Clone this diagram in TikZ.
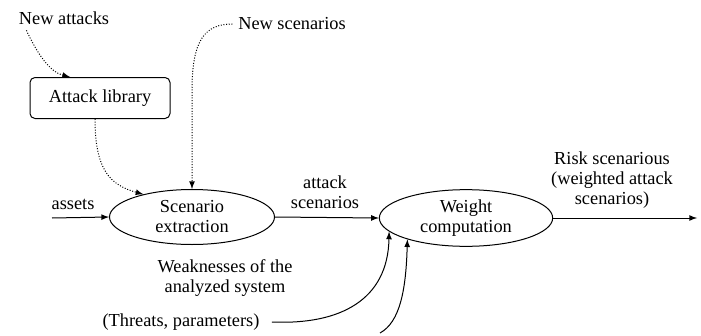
\documentclass[tikz,border=0pt]{standalone}
\usepackage{fontspec}
\setmainfont{Liberation Serif}
\usetikzlibrary{shapes,arrows}

\begin{document}
\begin{tikzpicture}[x=0.6pt,y=-0.6pt,
  every node/.style={font=\rmfamily\fontsize{11}{12}\selectfont, align=center},
  proc/.style={ellipse, draw, semithick, minimum width=99pt, minimum height=33pt, inner sep=0pt},
  libbox/.style={draw, semithick, rounded corners=3pt, minimum width=84pt, minimum height=24.6pt},
  flow/.style={-latex, semithick},
  newflow/.style={-latex, semithick, densely dotted}]

\useasboundingbox (0,0) rectangle (701,335);

\node (na) at (64,18) {New attacks};
\node (ns) at (292,24) {New scenarios};
\node (lib) [libbox] at (100,98) {Attack library};

\node (sx) [proc] at (192,217) {Scenario\\extraction};
\node (wc) [proc, minimum width=104pt, minimum height=34pt] at (466,218) {Weight\\computation};

\node (assets) at (73,204) {assets};
\node (as) at (325,192) {attack\\scenarios};
\node (risk) at (612,180) {Risk scenarious\\(weighted attack\\scenarios)};
\node (weak) at (225,278) {Weaknesses of the\\analyzed system};
\node (thr) at (181,322) {(Threats, parameters)};

\coordinate (ain) at (52,218);
\coordinate (rout) at (697,218);
\coordinate (t2) at (380,333);

% inputs from above
\draw [newflow] ([xshift=8pt]na.south west) .. controls (38,55) and (50,72) .. ([xshift=-18pt]lib.north);
\draw [newflow] (ns.west) .. controls (205,24) and (192,40) .. (192,90) -- (sx.north);
\draw [newflow] ([xshift=-3pt]lib.south) .. controls (95,170) and (110,185) .. (sx.155);

% main chain
\draw [flow] (ain) -- (sx.west);
\draw [flow] (sx.east) -- (wc.west);
\draw [flow] (wc.east) -- (rout);

% threats
\draw [flow] ([xshift=4pt]thr.east) .. controls (340,325) and (388,300) .. (wc.190);
\draw [flow] (t2) .. controls (400,322) and (406,290) .. (wc.200);

\end{tikzpicture}
\end{document}
